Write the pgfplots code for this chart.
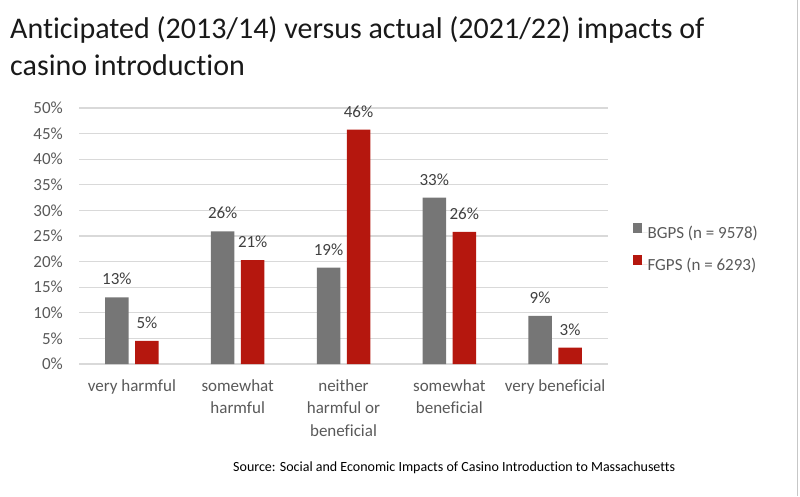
\documentclass[border=0pt]{standalone}
\usepackage{pgfplots}
\pgfplotsset{compat=1.18}
\usepackage{fontspec}
\setmainfont{Carlito}[Ligatures=NoCommon]
\definecolor{bargray}{HTML}{767676}
\definecolor{barred}{HTML}{B5170E}
\definecolor{txtgray}{HTML}{595959}
\definecolor{lblgray}{HTML}{404040}
\definecolor{gridgray}{HTML}{D9D9D9}
\begin{document}
\begin{tikzpicture}[x=1pt,y=1pt]
\path[use as bounding box] (0,0) rectangle (800,496);
\draw[color=black!22, line width=1.5pt] (797.5,0) -- (797.5,496);
\node[anchor=base west, font=\fontsize{30}{36}\selectfont, text=black!90, inner sep=0pt] at (10,457) {Anticipated (2013/14) versus actual (2021/22) impacts of};
\node[anchor=base west, font=\fontsize{30}{36}\selectfont, text=black!90, inner sep=0pt] at (10,420) {casino introduction};
\node[anchor=base west, font=\fontsize{14}{16}\selectfont, text=black, inner sep=0pt] at (233,25) {Source: Social and Economic Impacts of Casino Introduction to Massachusetts};
\begin{axis}[
  at={(79pt,132pt)}, anchor=south west,
  scale only axis, width=529pt, height=256pt,
  ybar, bar width=23.5pt,
  ymin=0, ymax=50, ytick={0,5,...,50},
  xmin=-0.5, xmax=4.5, xtick={0,1,2,3,4},
  xticklabels={very harmful, somewhat\\harmful, neither\\harmful or\\beneficial, somewhat\\beneficial, very beneficial},
  ymajorgrids, grid style={gridgray, line width=1.3pt},
  axis line style={draw=none},
  major tick length=0pt,
  /pgf/number format/assume math mode=true,
  yticklabel={\pgfmathprintnumber{\tick}\%},
  yticklabel style={inner sep=0pt, anchor=east, xshift=-16pt, text=txtgray, font=\fontsize{17}{20}\selectfont},
  xticklabel style={inner sep=0pt, anchor=north, yshift=-15pt, align=center, text=txtgray, font=\fontsize{17}{22.5}\selectfont},
  nodes near coords={\pgfmathprintnumber[fixed,precision=0]{\pgfplotspointmeta}\%},
  nodes near coords style={anchor=base, inner sep=0pt, yshift=12.5pt, text=lblgray, font=\fontsize{17}{20}\selectfont},
  point meta=explicit,
  legend style={at={(1.047,0.455)}, anchor=west, draw=none, fill=none, inner sep=0pt, row sep=15.5pt,
    font=\fontsize{17}{20}\selectfont, text=txtgray, nodes={inner sep=0pt}},
  legend cell align=left,
  legend image code/.code={\fill[#1] (0pt,0pt) rectangle (9pt,9.5pt); \path (0,0) -- (14.5pt,0);},
]
\addplot[fill=bargray, draw=none, bar shift=-15pt] coordinates {(0,13.0) [13] (1,25.9) [26] (2,18.8) [19] (3,32.5) [33] (4,9.4) [9]};
\addplot[fill=barred, draw=none, bar shift=15pt] coordinates {(0,4.5) [5] (1,20.3) [21] (2,45.8) [46] (3,25.8) [26] (4,3.2) [3]};
\legend{BGPS (n = 9578), FGPS (n = 6293)}
\end{axis}
\end{tikzpicture}
\end{document}
